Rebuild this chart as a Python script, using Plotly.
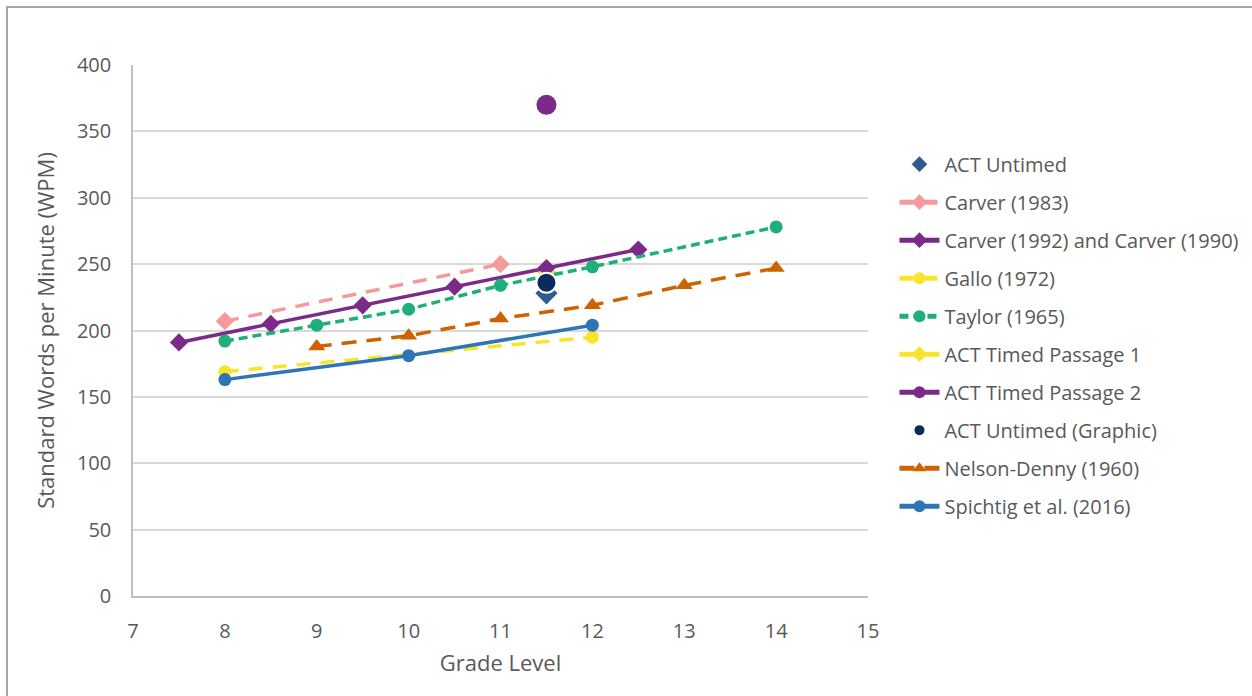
import plotly.graph_objects as go

# Reading speed by grade level, per source
carver83_x = [8, 11]
carver83_y = [207, 250]

carver92_x = [7.5, 8.5, 9.5, 10.5, 11.5, 12.5]
carver92_y = [191, 205, 219, 233, 247, 261]

gallo_x = [8, 12]
gallo_y = [169, 195]

taylor_x = [8, 9, 10, 11, 12, 14]
taylor_y = [192, 204, 216, 234, 248, 278]

nelson_x = [9, 10, 11, 12, 13, 14]
nelson_y = [188, 196, 209, 219, 234, 247]

spichtig_x = [8, 10, 12]
spichtig_y = [163, 181, 204]

act_untimed_x = [11.5]
act_untimed_y = [228]

act_timed1_x = [11.5]
act_timed1_y = [244]

act_timed2_x = [11.5]
act_timed2_y = [370]

act_graphic_x = [11.5]
act_graphic_y = [236]

x_ticks = [7, 8, 9, 10, 11, 12, 13, 14, 15]
y_ticks = [0, 50, 100, 150, 200, 250, 300, 350, 400]

FONT = "Open Sans"
TXT = "#595959"

fig = go.Figure()


def add(name, x, y, color, rank, mode="lines+markers", dash="solid",
        symbol="circle", msize=11, width=3.5, mline=None):
    marker = dict(color=color, size=msize, symbol=symbol)
    if mline:
        marker["line"] = mline
    fig.add_trace(go.Scatter(
        x=x, y=y, name=name, mode=mode, legendrank=rank, legendgroup=name,
        line=dict(color=color, width=width, dash=dash),
        marker=marker,
    ))


# draw order: lower layers first, legend order set by legendrank
add("ACT Untimed", act_untimed_x, act_untimed_y, "#2F5C8F", 1,
    mode="markers", symbol="diamond", msize=17)
add("ACT Timed Passage 1", act_timed1_x, act_timed1_y, "#F9E42C", 6,
    symbol="diamond", msize=15)
add("Carver (1983)", carver83_x, carver83_y, "#F4999C", 2,
    dash="14px,10px", symbol="diamond", msize=14)
add("Carver (1992) and Carver (1990)", carver92_x, carver92_y, "#7B2A8A", 3,
    symbol="diamond", msize=14)
add("Gallo (1972)", gallo_x, gallo_y, "#F9E42C", 4,
    dash="14px,10px", symbol="circle", msize=13)
add("Taylor (1965)", taylor_x, taylor_y, "#1FAF7A", 5,
    dash="9px,5px", symbol="circle", msize=13)
add("Nelson-Denny (1960)", nelson_x, nelson_y, "#CC6200", 9,
    dash="15px,10px", symbol="triangle-up", msize=15)
add("Spichtig et al. (2016)", spichtig_x, spichtig_y, "#2E75B6", 10,
    symbol="circle", msize=13)
add("ACT Timed Passage 2", act_timed2_x, act_timed2_y, "#7B2A8A", 7,
    symbol="circle", msize=20)
add("ACT Untimed (Graphic)", act_graphic_x, act_graphic_y, "#0B2B5C", 8,
    mode="markers", symbol="circle", msize=20,
    mline=dict(color="white", width=2))

axis_common = dict(
    showline=True, linecolor="#BFBFBF", linewidth=1.5,
    zeroline=False, ticks="", ticklabelstandoff=16,
    tickfont=dict(family=FONT, size=20, color=TXT),
)

fig.update_xaxes(range=[7, 15], tickvals=x_ticks, showgrid=False,
                 title=dict(text="Grade Level", standoff=13,
                            font=dict(family=FONT, size=22, color=TXT)),
                 **axis_common)
fig.update_yaxes(range=[0, 400], tickvals=y_ticks,
                 showgrid=True, gridcolor="#D9D9D9", gridwidth=1.5,
                 title=dict(text="Standard Words per Minute (WPM)", standoff=16,
                            font=dict(family=FONT, size=22, color=TXT)),
                 **axis_common)

# outer chart border
fig.add_shape(type="rect", xref="paper", yref="paper",
              x0=(7 - 133) / 735, x1=(1262 - 133) / 735,
              y0=(596 - 706) / 531, y1=(596 - 7) / 531,
              line=dict(color="#A6A6A6", width=2), fillcolor="rgba(0,0,0,0)",
              layer="below")

fig.update_layout(
    width=1252, height=696,
    margin=dict(l=133, r=384, t=65, b=100, autoexpand=False),
    paper_bgcolor="white", plot_bgcolor="white",
    font=dict(family=FONT, color=TXT),
    legend=dict(x=1.036, xanchor="left", y=0.85, yanchor="top",
                font=dict(family=FONT, size=20, color=TXT),
                tracegroupgap=9, bgcolor="rgba(255,255,255,0)",
                itemwidth=40, itemsizing="constant"),
    showlegend=True,
)

fig.write_html("out.html")
